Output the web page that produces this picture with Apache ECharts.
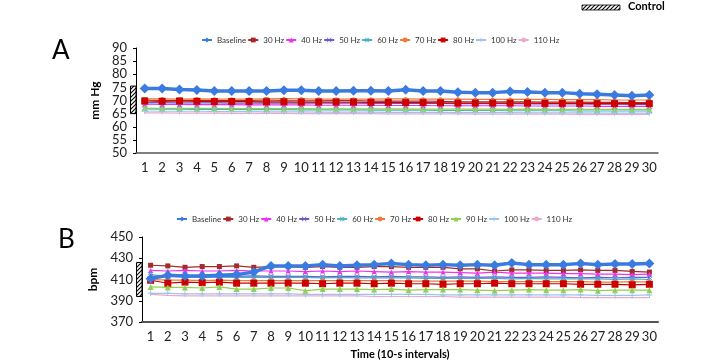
<!DOCTYPE html>
<html><head><meta charset="utf-8">
<script src="https://cdn.jsdelivr.net/npm/echarts@6/dist/echarts.min.js"></script>
<style>html,body{margin:0;padding:0;background:#fff}#c{width:714px;height:362px}</style>
</head><body><div id="c"></div>
<script>
const intervals = ['1','2','3','4','5','6','7','8','9','10','11','12','13','14','15','16','17','18','19','20','21','22','23','24','25','26','27','28','29','30'];
const seriesNames = ['Baseline','30 Hz','40 Hz','50 Hz','60 Hz','70 Hz','80 Hz','90 Hz','100 Hz','110 Hz'];
const legendNamesA = ['Baseline','30 Hz','40 Hz','50 Hz','60 Hz','70 Hz','80 Hz','100 Hz','110 Hz'];
const yTicksA = [50,55,60,65,70,75,80,85,90];
const yTicksB = [370,390,410,430,450];
const controlA = [65, 75.5];
const controlB = [394, 426];

// Panel A: mm Hg
const aBaseline = [74.6,74.6,74.2,74.0,73.6,73.6,73.6,73.6,73.9,73.9,73.6,73.6,73.7,73.7,73.6,74.1,73.6,73.6,73.1,73.0,73.0,73.4,73.2,73.0,73.0,72.6,72.4,72.1,71.8,72.1];
const a30 = [70.2,70.0,70.1,70.0,70.0,70.0,70.0,70.2,70.0,69.9,69.9,70.0,70.0,69.8,69.8,69.8,69.8,69.7,69.5,69.5,69.5,69.5,69.5,69.4,69.4,69.4,69.3,69.3,69.2,69.2];
const a40 = [68.6,68.5,68.5,68.4,68.4,68.4,68.3,68.3,68.3,68.3,68.2,68.2,68.2,68.2,68.1,68.1,68.1,68.0,68.0,68.0,68.0,68.0,67.9,67.9,67.9,67.9,67.8,67.8,67.8,67.8];
const a50 = [69.2,69.2,69.1,69.1,69.1,69.0,69.0,69.1,69.0,69.0,69.0,69.0,69.0,68.9,69.0,68.9,68.9,68.9,68.8,68.8,68.8,68.8,68.7,68.7,68.7,68.7,68.6,68.6,68.5,68.5];
const a60 = [66.8,66.7,66.7,66.6,66.6,66.6,66.5,66.5,66.5,66.4,66.4,66.4,66.4,66.3,66.3,66.3,66.3,66.2,66.2,66.2,66.2,66.1,66.1,66.1,66.1,66.0,66.0,66.0,66.0,66.0];
const a70 = [70.6,70.6,70.5,70.6,70.5,70.5,70.5,70.6,70.7,70.6,70.5,70.5,70.5,70.5,70.6,70.6,70.5,70.5,70.5,70.4,70.4,70.4,70.4,70.4,70.3,70.3,70.3,70.2,70.2,70.2];
const a80 = [69.8,69.7,69.8,69.7,69.6,69.6,69.6,69.5,69.5,69.4,69.4,69.4,69.4,69.3,69.3,69.2,69.2,69.1,69.0,69.0,69.0,69.0,69.0,68.9,68.9,68.9,68.8,68.8,68.8,68.8];
const a90 = [67.1,67.0,67.0,67.0,67.0,66.9,66.9,66.9,66.9,66.9,66.8,66.8,66.8,66.8,66.8,66.8,66.7,66.7,66.7,66.7,66.7,66.6,66.7,66.6,66.6,66.6,66.6,66.6,66.6,66.6];
const a100 = [66.0,65.9,65.9,65.9,65.8,65.8,65.8,65.7,65.7,65.7,65.6,65.6,65.6,65.6,65.5,65.5,65.5,65.5,65.4,65.4,65.4,65.4,65.3,65.3,65.3,65.3,65.2,65.2,65.2,65.2];
const a110 = [65.3,65.3,65.2,65.2,65.2,65.1,65.1,65.1,65.1,65.0,65.0,65.0,65.0,65.0,64.9,64.9,64.9,64.9,64.9,64.8,64.8,64.8,64.8,64.8,64.8,64.7,64.7,64.7,64.7,64.7];

// Panel B: bpm
const bBaseline = [410.8,414.0,413.3,413.3,414.0,414.6,417.1,422.8,422.8,422.8,424.0,422.8,423.4,424.0,425.0,424.0,423.4,424.0,423.4,424.0,423.4,425.5,424.0,424.0,424.0,425.0,424.0,424.5,424.5,425.0];
const b30 = [423.4,422.8,421.5,422.2,422.2,422.8,421.5,422.2,422.2,421.5,422.2,421.5,421.5,422.2,422.1,421.5,421.5,421.5,420.0,420.0,418.0,419.0,419.0,418.5,418.5,419.0,418.5,418.5,417.6,417.0];
const b40 = [418.5,418.0,418.5,418.0,418.0,418.5,418.0,418.0,418.0,417.5,418.0,417.5,418.0,417.5,417.0,417.5,417.0,417.0,416.5,416.0,417.0,416.0,416.0,416.0,415.5,415.5,415.0,415.0,414.5,415.0];
const b50 = [413.0,413.5,413.0,413.5,413.0,413.0,413.5,413.0,413.0,413.0,412.5,413.0,413.0,412.5,413.0,412.5,412.5,412.0,412.5,412.0,412.5,412.0,412.0,412.5,412.0,411.5,412.0,411.5,412.0,412.0];
const b60 = [414.5,413.0,412.5,412.0,412.0,412.0,412.0,412.0,412.0,412.0,411.5,412.0,411.5,411.5,411.5,411.5,411.0,411.0,411.0,411.0,411.0,410.5,411.0,410.5,410.5,410.5,410.5,410.0,410.5,410.0];
const b70 = [410.0,409.5,409.5,409.0,409.5,409.0,409.0,409.0,409.0,409.0,409.0,409.0,409.0,409.0,409.0,408.5,408.5,408.5,408.5,408.5,408.0,408.0,408.0,408.0,408.0,408.0,407.5,407.5,408.0,407.5];
const b80 = [409.3,406.5,407.5,407.0,407.5,406.5,406.5,406.5,406.5,406.5,406.0,406.5,406.5,406.0,406.5,406.0,406.0,405.5,406.0,406.0,406.5,406.0,406.0,406.0,406.0,405.5,405.5,405.5,405.0,405.5];
const b90 = [403.0,402.5,402.5,402.0,403.0,401.0,401.0,402.0,402.0,399.5,401.0,401.0,401.0,400.5,401.0,400.0,400.5,400.5,400.5,400.0,399.5,400.0,400.5,400.0,400.0,400.5,399.5,400.0,400.0,400.0];
const b100 = [397.0,397.0,396.5,396.5,396.5,396.5,396.5,396.5,396.5,396.0,396.0,396.0,396.0,396.0,396.0,396.0,396.0,395.5,395.5,395.5,395.5,395.5,395.5,395.5,395.5,395.5,395.0,395.0,395.0,395.5];
const b110 = [396.0,395.0,394.5,394.5,394.5,394.5,394.5,394.5,394.5,394.5,394.5,394.5,394.5,394.0,394.0,394.0,394.0,394.0,393.5,393.5,393.5,393.5,393.5,393.5,393.5,393.0,393.0,393.0,393.0,393.0];

const dataA = [aBaseline,a30,a40,a50,a60,a70,a80,a90,a100,a110];
const dataB = [bBaseline,b30,b40,b50,b60,b70,b80,b90,b100,b110];

const X_PATH = 'path://M0,1L1,0L5,4L9,0L10,1L6,5L10,9L9,10L5,6L1,10L0,9L4,5Z';
const AST_PATH = 'path://M0,1L1,0L5,4L9,0L10,1L6,5L10,9L9,10L5,6L1,10L0,9L4,5Z M4.4,0L5.6,0L5.6,10L4.4,10Z';
const PLUS_PATH = 'path://M4.2,0H5.8V4.2H10V5.8H5.8V10H4.2V5.8H0V4.2H4.2Z';
const styles = {
  'Baseline': {color:'#3A7BE0', symbol:'diamond', size:10, width:3.5, z:5},
  '30 Hz': {color:'#A52A2A', symbol:'rect', size:5, width:1.2, z:3},
  '40 Hz': {color:'#EE33EE', symbol:'triangle', size:5, width:1.2, z:3},
  '50 Hz': {color:'#6B5BD0', symbol:X_PATH, size:5, width:1.2, z:3},
  '60 Hz': {color:'#4BB0C8', symbol:AST_PATH, size:6, width:1.2, z:3},
  '70 Hz': {color:'#F07838', symbol:'circle', size:4, width:1.2, z:3},
  '80 Hz': {color:'#CC0000', symbol:'rect', size:7, width:1.2, z:3},
  '90 Hz': {color:'#8FD14F', symbol:'triangle', size:6, width:1.2, z:3},
  '100 Hz': {color:'#9CC4EA', symbol:PLUS_PATH, size:6, width:1.2, z:3},
  '110 Hz': {color:'#EBA9CC', symbol:'none', size:0, width:1.2, z:3}
};

const F = 'Lato, "Liberation Sans", sans-serif';
const series = [];
function addSeries(data, idx) {
  seriesNames.forEach((n, i) => {
    const s = styles[n];
    series.push({
      name: n, type: 'line', xAxisIndex: idx, yAxisIndex: idx,
      data: data[i], symbol: s.symbol, symbolSize: s.size, z: s.z,
      showSymbol: s.symbol !== 'none',
      itemStyle: {color: s.color},
      lineStyle: {color: s.color, width: s.width},
      emphasis: {disabled: true}, animation: false
    });
  });
}
addSeries(dataA, 0);
addSeries(dataB, 1);

function yAxis(ticks, name, gap, lm) {
  return {
    type: 'value', gridIndex: 0, min: ticks[0], max: ticks[ticks.length-1],
    interval: ticks[1]-ticks[0], splitLine: {show:false},
    axisLine: {show:true, lineStyle:{color:'#000', width:1}},
    axisTick: {show:true, length:3, lineStyle:{color:'#000'}},
    axisLabel: {color:'#222', fontSize:13, fontFamily:F, margin:lm},
    name: name, nameLocation:'middle', nameGap: gap,
    nameTextStyle: {color:'#000', fontSize:12, fontWeight:'bold', fontFamily:F}
  };
}
const yA = yAxis(yTicksA, 'mm Hg', 27, 9);
const yB = yAxis(yTicksB, 'bpm', 33, 9); yB.gridIndex = 1;

function xAxis(idx, lineW) {
  return {
    type:'category', gridIndex: idx, data: intervals, boundaryGap: true,
    axisLine: {show:true, lineStyle:{color:'#555', width:lineW}},
    axisTick: {show:false},
    axisLabel: {color:'#222', fontSize:13, fontFamily:F, margin:8, interval:0}
  };
}
const xA = xAxis(0, 1.5);
const xB = xAxis(1, 2);
xB.name = 'Time (10-s intervals)'; xB.nameLocation = 'middle'; xB.nameGap = 27;
xB.nameTextStyle = {color:'#000', fontSize:11, fontWeight:'bold', fontFamily:F};

const legendCommon = {
  orient:'horizontal', itemWidth:10, itemHeight:6, itemGap:1,
  textStyle:{fontSize:8, color:'#333', fontFamily:F},
  selectedMode:false, padding:0
};

const chart = echarts.init(document.getElementById('c'), null, {renderer:'canvas'});
chart.setOption({
  animation:false,
  grid: [
    {left:136, right:56, top:48, height:105},
    {left:142, right:56, top:237, height:85}
  ],
  xAxis: [xA, xB],
  yAxis: [yA, yB],
  legend: [
    Object.assign({data: legendNamesA, left:201, top:36}, legendCommon),
    Object.assign({data: seriesNames, left:176, top:215}, legendCommon)
  ],
  series: series
});

// hatch pattern
const pc = document.createElement('canvas');
pc.width = 4; pc.height = 4;
const g = pc.getContext('2d');
g.fillStyle = '#fff'; g.fillRect(0,0,4,4);
g.strokeStyle = '#000'; g.lineWidth = 1.1;
g.beginPath(); g.moveTo(-1,5); g.lineTo(5,-1); g.stroke();
g.beginPath(); g.moveTo(-1,1); g.lineTo(1,-1); g.stroke();
g.beginPath(); g.moveTo(3,5); g.lineTo(5,3); g.stroke();
const pattern = {image: pc, repeat: 'repeat'};

const aTop = chart.convertToPixel({yAxisIndex:0}, controlA[1]);
const aBot = chart.convertToPixel({yAxisIndex:0}, controlA[0]);
const bTop = chart.convertToPixel({yAxisIndex:1}, controlB[1]);
const bBot = chart.convertToPixel({yAxisIndex:1}, controlB[0]);

chart.setOption({
  graphic: [
    {type:'text', left:52, top:38, style:{text:'A', fontSize:26, fontFamily:F, fill:'#000'}},
    {type:'text', left:58, top:227, style:{text:'B', fontSize:26, fontFamily:F, fill:'#000'}},
    {type:'rect', shape:{x:130.5, y:aTop, width:5.5, height:aBot-aTop}, style:{fill:pattern, stroke:'#000', lineWidth:1}, z:10},
    {type:'rect', shape:{x:136.5, y:bTop, width:5.5, height:bBot-bTop}, style:{fill:pattern, stroke:'#000', lineWidth:1}, z:10},
    {type:'rect', shape:{x:582, y:5, width:38, height:5}, style:{fill:pattern, stroke:'#000', lineWidth:0.8}, z:10},
    {type:'text', left:628, top:1, style:{text:'Control', fontSize:11, fontWeight:'bold', fontFamily:F, fill:'#000'}}
  ]
});
</script></body></html>
